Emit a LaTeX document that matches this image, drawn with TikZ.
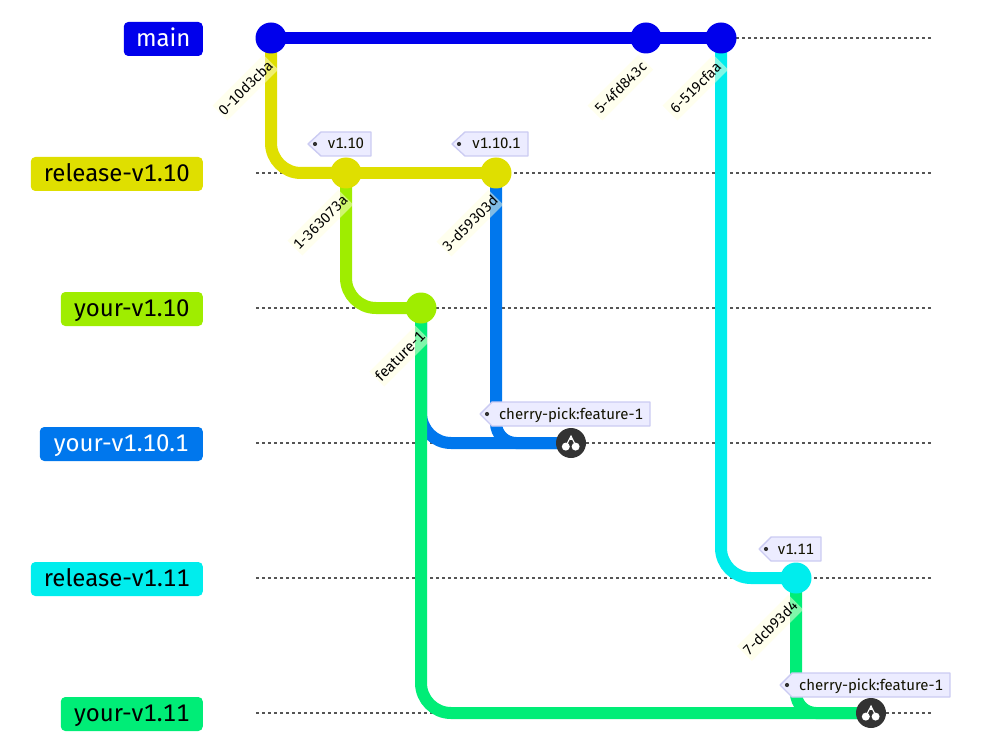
\documentclass[tikz,border=0pt]{standalone}
\usepackage{fontspec}
\setmainfont[Numbers=Monospaced]{Fira Sans}
\definecolor{cmain}{HTML}{0000EC}
\definecolor{crelten}{HTML}{DFDF00}
\definecolor{cyourten}{HTML}{9FED00}
\definecolor{cyourtenone}{HTML}{0077ED}
\definecolor{crelele}{HTML}{00EDED}
\definecolor{cyourele}{HTML}{00ED77}
\definecolor{taillabel}{HTML}{FFFFDE}
\definecolor{tagfill}{HTML}{ECECFF}
\definecolor{tagline}{HTML}{CBCBF2}
\definecolor{tagtext}{HTML}{131300}
\definecolor{lanegray}{HTML}{555555}
\definecolor{pickdark}{HTML}{333333}
\pgfdeclarelayer{bg}
\pgfsetlayers{bg,main}
\tikzset{
  lanelabel/.style={anchor=east,rounded corners=4.5pt,minimum height=34pt,inner xsep=0pt,inner ysep=0pt,text height=21pt,text depth=5.6pt,font=\fontsize{24}{27}\selectfont},
  lane/.style={draw=lanegray,line width=1.4pt,dash pattern=on 3pt off 3pt},
  branchline/.style={line width=12pt,rounded corners=30pt},
  branchtight/.style={line width=12pt,rounded corners=20pt},
  commitdot/.style={circle,minimum size=31pt,inner sep=0pt},
  pickdot/.style={circle,fill=pickdark,minimum size=30pt,inner sep=0pt},
  commitlabel/.style={rotate=45,anchor=east,fill=taillabel,fill opacity=0.5,text opacity=1,text=black,inner xsep=1pt,inner ysep=0pt,minimum height=21pt,minimum width=72pt,font=\fontsize{14.4}{17}\selectfont},
  tagshape/.style={fill=tagfill,draw=tagline,line width=1.4pt,line join=round},
  tagword/.style={text=tagtext,inner sep=0pt,text height=11.5pt,text depth=1.5pt,font=\fontsize{15}{17}\selectfont},
}
% name, x left tip, x shoulder, x right, y top, text
\newcommand{\gittag}[6]{%
  \path[tagshape] (#2,#5+12) -- (#3,#5) -- (#4,#5) -- (#4,#5+24) -- (#3,#5+24) -- cycle;
  \fill[pickdark] (#2+7,#5+12) circle (2.1pt);
  \node[tagword] (#1) at ({(#3+#4)/2},#5+12) {#6};%
}
\newcommand{\cherrymark}[1]{%
  \fill[white] ([shift={(-5.2,3.6)}]#1.center) circle (4pt);
  \fill[white] ([shift={(4.6,3.6)}]#1.center) circle (4pt);
  \draw[white,line width=1.1pt] ([shift={(-4.6,2)}]#1.center) -- ([shift={(0,-7)}]#1.center) -- ([shift={(4.4,2)}]#1.center);
  \draw[white,line width=1.1pt] ([shift={(0,-7)}]#1.center) -- ([shift={(0,-3)}]#1.center);
}
\begin{document}
\begin{tikzpicture}[x=1pt,y=-1pt]
\useasboundingbox (0,0) rectangle (984,743);

% branch labels
\node[lanelabel,fill=cmain,text=white,minimum width=79pt] (lmain) at (203,39) {main};
\node[lanelabel,fill=crelten,text=black,minimum width=172pt] (lrelten) at (203,174) {release-v1.10};
\node[lanelabel,fill=cyourten,text=black,minimum width=142pt] (lyourten) at (203,309) {your-v1.10};
\node[lanelabel,fill=cyourtenone,text=white,minimum width=163pt] (lyourtenone) at (203,444) {your-v1.10.1};
\node[lanelabel,fill=crelele,text=black,minimum width=172pt] (lrelele) at (203,579) {release-v1.11};
\node[lanelabel,fill=cyourele,text=black,minimum width=142pt] (lyourele) at (203,714) {your-v1.11};

% lane ends
\foreach \n/\y in {a/38,b/173,c/308,d/443,e/578,f/713}{
  \coordinate (s\n) at (256,\y);
  \coordinate (t\n) at (931,\y);
}

% commits
\node[commitdot,fill=cmain] (c0) at (271,38) {};
\node[commitdot,fill=crelten] (c1) at (346,173) {};
\node[commitdot,fill=cyourten] (c2) at (421,308) {};
\node[commitdot,fill=crelten] (c3) at (496,173) {};
\node[pickdot] (p1) at (571,443) {};
\node[commitdot,fill=cmain] (c5) at (646,38) {};
\node[commitdot,fill=cmain] (c6) at (721,38) {};
\node[commitdot,fill=crelele] (c7) at (796,578) {};
\node[pickdot] (p2) at (871,713) {};
\cherrymark{p1}
\cherrymark{p2}

% commit labels
\node[commitlabel] (n0) at (271,62) {0-10d3cba};
\node[commitlabel] (n1) at (346,197) {1-363073a};
\node[commitlabel,minimum width=0pt,font=\fontsize{15}{17}\selectfont] (n2) at (423,333) {feature-1};
\node[commitlabel] (n3) at (496,197) {3-d59303d};
\node[commitlabel] (n5) at (646,62) {5-4fd843c};
\node[commitlabel] (n6) at (721,62) {6-519cfaa};
\node[commitlabel] (n7) at (796,602) {7-dcb93d4};

% tags
\gittag{g1}{308}{321}{371}{132}{v1.10}
\gittag{g2}{452}{465}{528}{132}{v1.10.1}
\gittag{g3}{480}{492}{650}{402}{cherry-pick:feature-1}
\gittag{g4}{759}{771}{821}{537}{v1.11}
\gittag{g5}{780}{792}{950}{673}{cherry-pick:feature-1}

\begin{pgfonlayer}{bg}
  \foreach \n in {a,b,c,d,e,f}{\draw[lane] (s\n) -- (t\n);}
  \draw[branchline,draw=cmain] (c0.center) -- (c5.center) -- (c6.center);
  \draw[branchline,draw=crelten] (c0.center) |- (c1.center);
  \draw[branchline,draw=crelten] (c1.center) -- (c3.center);
  \draw[branchline,draw=cyourten] (c1.center) |- (c2.center);
  \draw[branchline,draw=cyourtenone] (c2.center) |- (p1.center);
  \draw[branchtight,draw=cyourtenone] (c3.center) |- (p1.center);
  \draw[branchline,draw=crelele] (c6.center) |- (c7.center);
  \draw[branchline,draw=cyourele] (c2.center) |- (p2.center);
  \draw[branchtight,draw=cyourele] (c7.center) |- (p2.center);
\end{pgfonlayer}
\end{tikzpicture}
\end{document}
